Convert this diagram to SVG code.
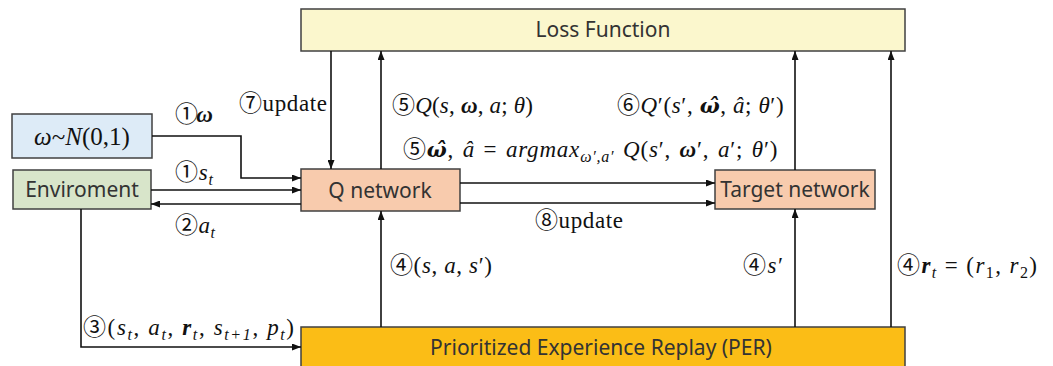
<svg xmlns="http://www.w3.org/2000/svg" width="1053" height="366" viewBox="0 0 1053 366">
<style>
.box{stroke:#404040;stroke-width:1.5}
.bt{font-family:"Noto Sans","Open Sans",sans-serif;font-size:21px;fill:#333;text-anchor:middle}
.m{font-family:"Liberation Serif","DejaVu Serif","Noto Sans CJK SC",serif;font-size:23px;fill:#111}
.i{font-style:italic}
.b{font-weight:bold;font-style:italic}
.h{font-family:"DejaVu Serif",serif;font-weight:bold;font-style:italic;font-size:21px}
.s{font-size:16px}
.c{stroke:#111;stroke-width:1.6;fill:none;marker-end:url(#ah)}
</style>
<defs>
<marker id="ah" markerUnits="userSpaceOnUse" markerWidth="9" markerHeight="7" refX="9" refY="3.5" orient="auto">
<path d="M0,0 L9,3.5 L0,7 z" fill="#111"/>
</marker>
</defs>
<rect width="1053" height="366" fill="#fff"/>
<g id="loss"><rect class="box" x="301" y="9" width="604" height="42" fill="#FBF7CD"/><text class="bt" x="603" y="37">Loss Function</text></g>
<g id="omega"><rect class="box" x="12" y="114" width="140" height="44" fill="#DDEBF7"/><text class="m" x="82" y="145" text-anchor="middle" style="font-size:25px"><tspan class="i">ω</tspan>~<tspan class="i">N</tspan>(0,1)</text></g>
<g id="env"><rect class="box" x="13" y="170" width="138" height="39" fill="#D8E5CA"/><text class="bt" x="82" y="197">Enviroment</text></g>
<g id="qnet"><rect class="box" x="301" y="169" width="159" height="42" fill="#F8CBAD"/><text class="bt" x="380" y="198">Q network</text></g>
<g id="target"><rect class="box" x="715" y="170" width="160" height="39" fill="#F8CBAD"/><text class="bt" x="795" y="197">Target network</text></g>
<g id="per"><rect class="box" x="301" y="327" width="604" height="45" fill="#FBBD16"/><text class="bt" x="601" y="355">Prioritized Experience Replay (PER)</text></g>
<g id="connectors">
<path class="c" d="M331,51 V169"/>
<path class="c" d="M381,169 V51"/>
<path class="c" d="M152,136 H241 V178 H301"/>
<path class="c" d="M151,190 H301"/>
<path class="c" d="M301,204 H151"/>
<path class="c" d="M460,183 H715"/>
<path class="c" d="M460,203 H715"/>
<path class="c" d="M795,170 V51"/>
<path class="c" d="M891,327 V51"/>
<path class="c" d="M795,327 V209"/>
<path class="c" d="M381,327 V211"/>
<path class="c" d="M81,209 V347 H301"/>
</g>
<g id="labels">
<text class="m" x="239" y="111" textLength="88">⑦update</text>
<text class="m" x="175" y="122" textLength="38">①<tspan class="b">ω</tspan></text>
<text class="m" x="175" y="180" textLength="38">①<tspan class="i">s</tspan><tspan class="i s" dy="5">t</tspan></text>
<text class="m" x="175" y="233" textLength="40">②<tspan class="i">a</tspan><tspan class="i s" dy="5">t</tspan></text>
<text class="m" x="392" y="113" textLength="141">⑤<tspan class="i">Q</tspan>(<tspan class="i">s</tspan>, <tspan class="b">ω</tspan>, <tspan class="i">a</tspan>; <tspan class="i">θ</tspan>)</text>
<text class="m" x="617" y="113" style="letter-spacing:0.6px">⑥<tspan class="i">Q</tspan>′(<tspan class="i">s</tspan>′, <tspan class="h">ω̂</tspan>, <tspan class="i">â</tspan>; <tspan class="i">θ</tspan>′)</text>
<text class="m" x="403" y="157" style="letter-spacing:0.8px;word-spacing:2px">⑤<tspan class="h">ω̂</tspan>, <tspan class="i">â</tspan> = <tspan class="i">argmax</tspan><tspan class="i s" dy="5">ω′,a′</tspan><tspan dy="-5"> </tspan><tspan class="i">Q</tspan>(<tspan class="i">s</tspan>′, <tspan class="b">ω</tspan>′, <tspan class="i">a</tspan>′; <tspan class="i">θ</tspan>′)</text>
<text class="m" x="535" y="228" textLength="88">⑧update</text>
<text class="m" x="390" y="273" textLength="102">④(<tspan class="i">s</tspan>, <tspan class="i">a</tspan>, <tspan class="i">s</tspan>′)</text>
<text class="m" x="743" y="273" textLength="40">④<tspan class="i">s</tspan>′</text>
<text class="m" x="897" y="273" textLength="140">④<tspan class="b">r</tspan><tspan class="i s" dy="5">t</tspan><tspan dy="-5"> = (</tspan><tspan class="i">r</tspan><tspan class="s" dy="5">1</tspan><tspan dy="-5">, </tspan><tspan class="i">r</tspan><tspan class="s" dy="5">2</tspan><tspan dy="-5">)</tspan></text>
<text class="m" x="83" y="335" textLength="211">③(<tspan class="i">s</tspan><tspan class="i s" dy="5">t</tspan><tspan dy="-5">, </tspan><tspan class="i">a</tspan><tspan class="i s" dy="5">t</tspan><tspan dy="-5">, </tspan><tspan class="b">r</tspan><tspan class="i s" dy="5">t</tspan><tspan dy="-5">, </tspan><tspan class="i">s</tspan><tspan class="i s" dy="5">t+1</tspan><tspan dy="-5">, </tspan><tspan class="i">p</tspan><tspan class="i s" dy="5">t</tspan><tspan dy="-5">)</tspan></text>
</g>
</svg>
